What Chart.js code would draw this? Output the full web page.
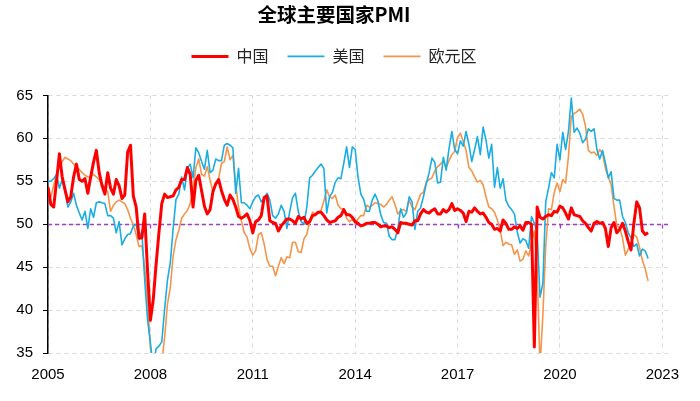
<!DOCTYPE html>
<html lang="zh">
<head>
<meta charset="utf-8">
<title>全球主要国家PMI</title>
<script src="https://cdn.jsdelivr.net/npm/chart.js@4.4.1/dist/chart.umd.min.js"></script>
<style>
  html, body { margin: 0; padding: 0; background: #fff; }
  #contenedor { position: relative; width: 700px; height: 401px; }
</style>
</head>
<body>
<div id="contenedor"><canvas id="graficoPMI"></canvas></div>
<script>
// Datos mensuales, desde 2005-11 hasta 2023-06 (una fila por año)
const chinaPMI = [
  54.3, 52.3,
  52.0, 55.0, 58.2, 55.5, 54.0, 52.6, 53.2, 55.5, 57.0, 55.2, 55.0, 55.3,
  53.6, 55.5, 57.2, 58.6, 56.0, 54.5, 53.5, 56.0, 54.2, 53.5, 55.2, 54.5,
  53.0, 53.4, 58.4, 59.2, 53.3, 52.0, 48.4, 48.4, 51.2, 44.6, 38.8, 41.2,
  45.3, 49.0, 52.4, 53.5, 53.1, 53.2, 53.3, 54.0, 54.3, 55.2, 55.2, 56.6,
  55.8, 52.0, 55.1, 55.7, 53.9, 52.1, 51.2, 51.7, 53.8, 54.7, 55.2, 53.9,
  52.9, 52.2, 53.4, 52.9, 52.0, 50.9, 50.7, 50.9, 51.2, 50.4, 49.0, 50.3,
  50.5, 51.0, 53.1, 53.3, 50.4, 50.2, 50.1, 49.2, 49.8, 50.2, 50.6, 50.6,
  50.4, 50.1, 50.9, 50.6, 50.8, 50.1, 50.3, 51.0, 51.1, 51.4, 51.4, 51.0,
  50.5, 50.2, 50.3, 50.4, 50.8, 51.0, 51.7, 51.1, 51.1, 50.8, 50.3, 50.1,
  49.8, 49.9, 50.1, 50.1, 50.2, 50.2, 50.0, 49.7, 49.8, 49.8, 49.6, 49.7,
  49.4, 49.0, 50.2, 50.1, 50.1, 50.0, 49.9, 50.4, 50.4, 51.2, 51.7, 51.4,
  51.3, 51.6, 51.8, 51.2, 51.2, 51.7, 51.4, 51.7, 52.4, 51.6, 51.8, 51.6,
  51.3, 50.3, 51.5, 51.4, 51.9, 51.5, 51.2, 51.3, 50.8, 50.2, 50.0, 49.4,
  49.5, 49.2, 50.5, 50.1, 49.4, 49.4, 49.7, 49.5, 49.8, 49.3, 50.2, 50.2,
  50.0, 35.7, 52.0, 50.8, 50.6, 50.9, 51.1, 51.0, 51.5, 51.4, 52.1, 51.9,
  51.3, 50.6, 51.9, 51.1, 51.0, 50.9, 50.4, 50.1, 49.6, 49.2, 50.1, 50.3,
  50.1, 50.2, 49.5, 47.4, 49.6, 50.2, 49.0, 49.4, 50.1, 49.2, 48.0, 47.0,
  50.1, 52.6, 51.9, 49.2, 48.8, 49.0
];

const usaPMI = [
  55.0, 55.0,
  55.3, 55.8, 54.2, 55.2, 53.8, 52.0, 52.6, 53.6, 52.2, 51.3, 50.5, 51.5,
  49.5, 51.8, 50.8, 52.5, 52.6, 52.5, 52.4, 51.0, 51.0, 50.7, 49.0, 50.3,
  47.6, 48.3, 48.8, 48.9, 49.8, 50.0, 48.2, 49.2, 43.5, 38.9, 36.2, 33.1,
  35.5, 35.8, 36.3, 40.1, 43.5, 45.5, 49.5, 52.9, 53.5, 55.5, 54.0, 56.5,
  57.0, 55.4, 58.9, 58.3, 57.3, 56.4, 58.6, 56.0, 56.3, 57.6, 57.4, 57.4,
  59.2, 59.4, 59.2, 58.9, 53.6, 56.5, 52.5, 52.5, 52.2, 51.8, 52.6, 53.2,
  53.4, 52.6, 53.0, 53.6, 52.8, 51.0, 50.7, 51.2, 52.2, 51.5, 49.5, 51.5,
  53.1, 53.6, 51.5, 50.3, 50.0, 52.0, 55.4, 55.7, 56.2, 56.6, 57.0, 56.5,
  51.3, 53.2, 53.7, 54.9, 55.4, 55.3, 57.1, 59.0, 56.6, 59.0, 58.7, 55.5,
  53.5, 52.9, 51.5, 51.5, 52.8, 53.5, 52.7, 51.1, 50.2, 50.1, 48.6, 48.2,
  48.2, 49.5, 51.8, 50.8, 51.3, 53.2, 52.6, 49.4, 51.5, 51.9, 53.2, 54.7,
  56.0, 57.7, 57.2, 54.8, 54.9, 57.8, 56.3, 58.8, 60.8, 58.7, 58.2, 59.7,
  59.1, 60.8, 59.3, 57.3, 58.7, 60.2, 58.1, 61.3, 59.8, 57.7, 59.3, 54.3,
  56.6, 54.2, 55.3, 52.8, 52.1, 51.7, 51.2, 49.1, 47.8, 48.3, 48.1, 47.2,
  50.9, 50.1, 49.1, 41.5, 43.1, 52.6, 54.2, 56.0, 55.4, 59.3, 57.5, 60.7,
  58.7, 60.8, 64.7, 60.7, 61.2, 60.6, 59.5, 59.9, 61.1, 60.8, 61.1, 58.7,
  57.6, 58.6, 57.1, 55.4, 56.1, 53.0, 52.8, 52.8, 50.9, 50.2, 49.0, 48.4,
  47.4, 47.7, 46.3, 47.1, 46.9, 46.0
];

const euroPMI = [
  53.8, 53.2,
  54.5, 55.8, 56.7, 57.3, 57.8, 57.6, 57.4, 57.0, 56.6, 56.4, 56.0, 55.7,
  55.5, 55.5, 55.8, 55.5, 55.2, 54.7, 54.2, 53.8, 51.5, 52.2, 52.6, 52.8,
  52.6, 52.4, 51.7, 50.7, 49.9, 48.8, 47.4, 47.5, 45.0, 41.1, 35.6, 33.9,
  34.4, 33.5, 33.9, 36.8, 40.7, 42.6, 46.3, 48.2, 49.3, 50.7, 51.2, 51.6,
  52.4, 54.2, 56.6, 57.6, 55.8, 55.6, 56.7, 55.1, 53.7, 54.6, 55.3, 57.1,
  57.3, 59.0, 57.5, 58.0, 54.6, 52.0, 50.4, 49.0, 48.5, 47.1, 46.4, 46.9,
  48.8, 49.0, 47.7, 45.9, 45.1, 45.1, 44.0, 45.1, 46.1, 45.4, 46.2, 46.1,
  47.9, 47.9, 46.8, 46.7, 48.3, 48.8, 50.3, 51.4, 51.1, 51.3, 51.6, 52.7,
  54.0, 53.2, 53.0, 53.4, 52.2, 51.8, 51.8, 50.7, 50.3, 50.6, 50.1, 50.6,
  51.0, 51.0, 52.2, 52.0, 52.2, 52.5, 52.4, 52.3, 52.0, 52.3, 52.8, 53.2,
  52.3, 51.2, 51.6, 51.7, 51.5, 52.8, 52.0, 51.7, 52.6, 53.5, 53.7, 54.9,
  55.2, 55.4, 56.2, 56.7, 57.0, 57.4, 56.6, 57.4, 58.1, 58.5, 60.1, 60.6,
  59.6, 58.6, 56.6, 56.2, 55.5, 54.9, 55.1, 54.6, 53.2, 52.0, 51.8, 51.4,
  50.5, 49.3, 47.5, 47.9, 47.7, 47.6, 46.5, 47.0, 45.7, 45.9, 46.9, 46.3,
  47.9, 49.2, 44.5, 33.4, 39.4, 47.4, 51.8, 51.7, 53.7, 54.8, 53.8, 55.2,
  54.8, 57.9, 62.5, 62.9, 63.1, 63.4, 62.8, 61.4, 58.6, 58.3, 58.4, 58.0,
  58.7, 58.2, 56.5, 55.5, 54.6, 52.1, 49.8, 49.6, 48.4, 46.4, 47.1, 47.8,
  48.8, 48.5, 47.3, 45.8, 44.8, 43.4
];

// Etiquetas del eje X: una cada 36 meses
const etiquetasEje = ['2005', '2008', '2011', '2014', '2017', '2020', '2023'];
const pasoEtiquetas = 36;
const lineaReferencia = 50;

const fuenteCJK = '"Noto Sans CJK SC", "Noto Sans", sans-serif';
const fuenteNum = '"Liberation Sans", Arial, sans-serif';

// Convierte una serie a puntos {x: mes, y: valor}
function aPuntos(serie) {
  return serie.map((v, i) => ({ x: i, y: v }));
}

// Línea discontinua morada en 50 con marcas pequeñas
const pluginLinea50 = {
  id: 'linea50',
  beforeDatasetsDraw(chart) {
    const { ctx, chartArea, scales } = chart;
    const py = Math.round(scales.y.getPixelForValue(lineaReferencia)) + 0.5;
    ctx.save();
    ctx.strokeStyle = '#A03CC8';
    ctx.lineWidth = 1.3;
    ctx.setLineDash([4, 3]);
    ctx.beginPath();
    ctx.moveTo(chartArea.left, py);
    ctx.lineTo(chartArea.right, py);
    ctx.stroke();
    ctx.setLineDash([]);
    ctx.beginPath();
    scales.x.ticks.forEach((t) => {
      if (t.value === 0) return;
      const px = Math.round(scales.x.getPixelForValue(t.value)) + 0.5;
      ctx.moveTo(px, py);
      ctx.lineTo(px, py + 4);
    });
    ctx.stroke();
    ctx.restore();
  }
};

function crearGrafico(canvas) {
  if (!canvas) {
    console.error('Canvas no encontrado');
    return;
  }

  return new Chart(canvas, {
    type: 'line',
    data: {
      datasets: [
        {
          label: '中国',
          data: aPuntos(chinaPMI),
          borderColor: '#FF0000',
          backgroundColor: '#FF0000',
          borderWidth: 3,
        },
        {
          label: '美国',
          data: aPuntos(usaPMI),
          borderColor: '#1AADE4',
          backgroundColor: '#1AADE4',
          borderWidth: 1.6,
        },
        {
          label: '欧元区',
          data: aPuntos(euroPMI),
          borderColor: '#F5954A',
          backgroundColor: '#F5954A',
          borderWidth: 1.6,
        },
      ],
    },
    options: {
      responsive: true,
      maintainAspectRatio: false,
      animation: false,
      elements: {
        point: { radius: 0, hoverRadius: 0, pointStyle: 'line' },
        line: { tension: 0, borderJoinStyle: 'round' },
      },
      layout: { padding: { left: 0, right: 32, top: 0, bottom: 0 } },
      plugins: {
        title: {
          display: true,
          text: '全球主要国家PMI',
          color: '#000',
          font: { family: fuenteCJK, size: 19.5, weight: 'bold' },
          padding: { top: 3, bottom: 3 },
        },
        // Espacio vacío entre la leyenda y el área del gráfico
        subtitle: {
          display: true,
          text: ' ',
          weight: 500,
          font: { size: 10 },
          padding: { top: 5, bottom: 4 },
        },
        legend: {
          position: 'top',
          labels: {
            usePointStyle: true,
            pointStyle: 'line',
            pointStyleWidth: 37,
            padding: 19,
            color: '#222',
            font: { family: fuenteCJK, size: 16 },
          },
        },
        tooltip: { enabled: false },
      },
      scales: {
        x: {
          type: 'linear',
          min: 0,
          max: 218,
          afterBuildTicks: (escala) => {
            escala.ticks = etiquetasEje.map((_, k) => ({ value: k * pasoEtiquetas }));
          },
          afterFit: (escala) => { escala.height = 48; },
          ticks: {
            autoSkip: false,
            maxRotation: 0,
            padding: 13,
            color: '#000',
            font: { family: fuenteNum, size: 15 },
            callback: (v) => etiquetasEje[Math.round(v / pasoEtiquetas)],
          },
          grid: { color: '#D9D9D9', drawTicks: false },
          border: { display: false, dash: [4, 4] },
        },
        y: {
          min: 35,
          max: 65,
          afterFit: (escala) => { escala.width = 48; },
          ticks: {
            stepSize: 5,
            padding: 10,
            color: '#000',
            font: { family: fuenteNum, size: 15 },
          },
          grid: { color: '#D9D9D9', tickColor: '#000', tickLength: 5 },
          border: { display: true, color: '#000', width: 1.5, dash: [4, 4] },
        },
      },
    },
    plugins: [pluginLinea50],
  });
}

crearGrafico(document.getElementById('graficoPMI'));
</script>
</body>
</html>
